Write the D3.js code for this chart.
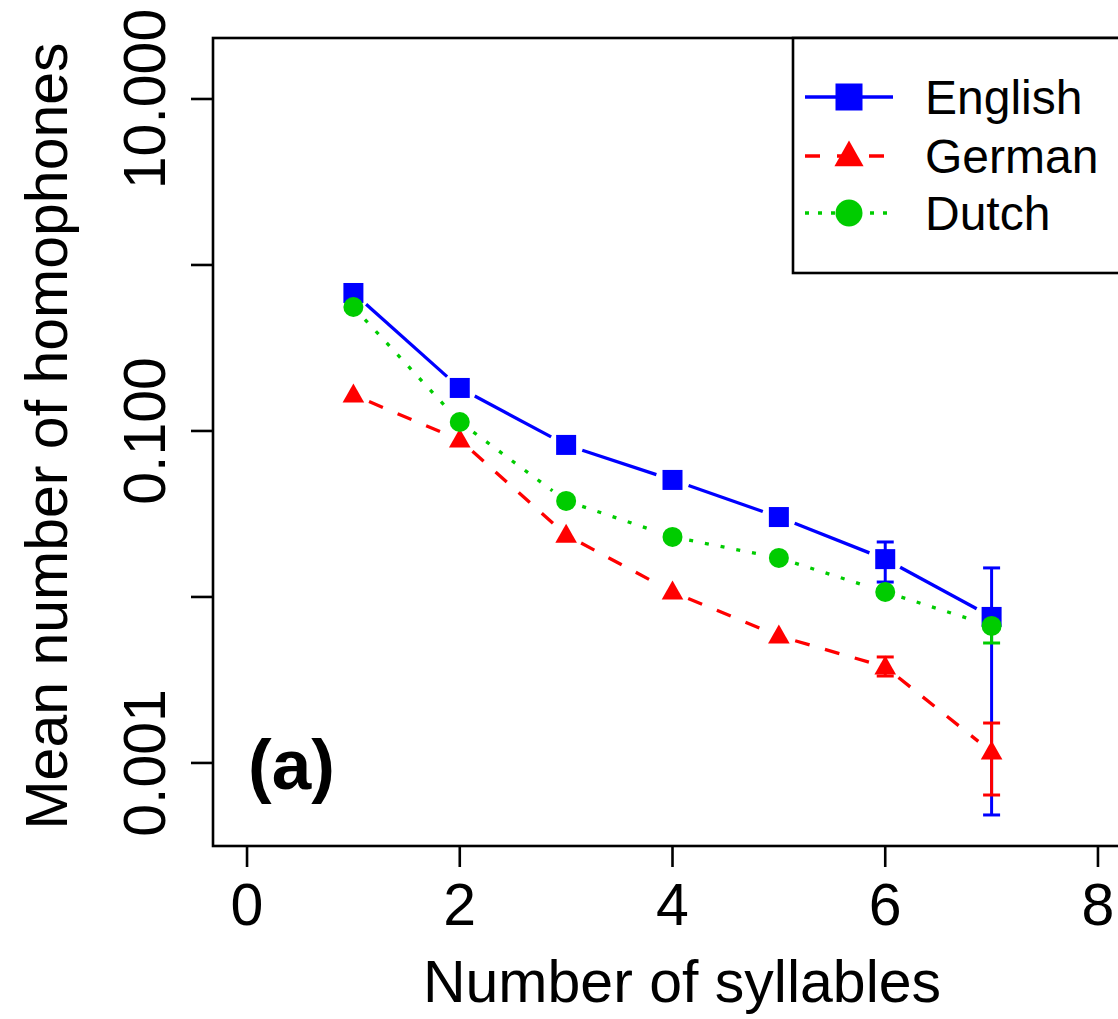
<!DOCTYPE html>
<html>
<head>
<meta charset="utf-8">
<script src="https://cdn.jsdelivr.net/npm/d3@7"></script>
<style>
  html, body { margin: 0; padding: 0; background: #fff; overflow: hidden; }
  svg { display: block; }
  text { font-family: "Liberation Sans", Arial, sans-serif; fill: #000; }
</style>
</head>
<body>
<svg id="chart" width="1118" height="1019"></svg>
<script>
// ---- data ----
const syllables = [1, 2, 3, 4, 5, 6, 7];
const englishMean = [0.678, 0.1816, 0.0824, 0.0507, 0.0303, 0.0169, 0.00758];
const germanMean  = [0.1648, 0.0883, 0.0236, 0.01072, 0.00582, 0.00379, 0.001164];
const dutchMean   = [0.558, 0.1133, 0.0379, 0.0230, 0.01718, 0.01072, 0.00669];
// visible error bars (null = hidden behind marker)
const englishLo = [null, null, null, null, null, 0.0123, 0.000486];
const englishHi = [null, null, null, null, null, 0.02144, 0.01496];
const germanLo  = [null, null, null, null, null, 0.00334, 0.000641];
const germanHi  = [null, null, null, null, null, 0.00435, 0.00174];
const dutchLo   = [null, null, null, null, null, null, 0.00528];
const dutchHi   = [null, null, null, null, null, null, 0.00813];
const xTicks = [0, 2, 4, 6, 8];
const yTicks = [10, 1, 0.1, 0.01, 0.001];
const yTickLabels = ["10.000", "", "0.100", "", "0.001"];
const seriesNames = ["English", "German", "Dutch"];

(function () {
// ---- layout ----
const svg = d3.select("#chart");
const pLeft = 213, pRight = 1132, pTop = 38, pBottom = 846;
const x = d3.scaleLinear().domain([-0.32, 8.32]).range([pLeft, pRight]);
const y = d3.scaleLog().domain([23.3, 0.000316]).range([pTop, pBottom]);

const series = [
  { name: seriesNames[0], mean: englishMean, lo: englishLo, hi: englishHi, color: "#0000ff", dash: null, legDash: null, shape: "square" },
  { name: seriesNames[1], mean: germanMean, lo: germanLo, hi: germanHi, color: "#ff0000", dash: "15,16", legDash: "15,17", shape: "triangle" },
  { name: seriesNames[2], mean: dutchMean, lo: dutchLo, hi: dutchHi, color: "#00cc00", dash: "4,12", legDash: "4,9", shape: "circle" }
];

function drawMarker(g, shape, cx, cy, size, color) {
  if (shape === "square") {
    g.append("rect").attr("x", cx - size / 2).attr("y", cy - size / 2)
      .attr("width", size).attr("height", size).attr("fill", color);
  } else if (shape === "circle") {
    g.append("circle").attr("cx", cx).attr("cy", cy).attr("r", size / 2).attr("fill", color);
  } else {
    const h = size * 0.95, w = size * 1.08;
    g.append("path")
      .attr("d", `M${cx},${cy - h * 0.6}L${cx + w / 2},${cy + h * 0.4}L${cx - w / 2},${cy + h * 0.4}Z`)
      .attr("fill", color);
  }
}

const plot = svg.append("g");
const gap = 17;

series.forEach(s => {
  const g = plot.append("g");
  for (let i = 0; i < syllables.length - 1; i++) {
    const x1 = x(syllables[i]), y1 = y(s.mean[i]);
    const x2 = x(syllables[i + 1]), y2 = y(s.mean[i + 1]);
    const dx = x2 - x1, dy = y2 - y1, len = Math.hypot(dx, dy);
    if (len <= 2 * gap) continue;
    const ux = dx / len, uy = dy / len;
    g.append("line")
      .attr("x1", x1 + ux * gap).attr("y1", y1 + uy * gap)
      .attr("x2", x2 - ux * gap).attr("y2", y2 - uy * gap)
      .attr("stroke", s.color).attr("stroke-width", 3.3)
      .attr("stroke-dasharray", s.dash);
  }
});

// error bars
series.forEach(s => {
  const g = plot.append("g");
  syllables.forEach((sx, i) => {
    if (s.lo[i] == null) return;
    const cx = x(sx);
    g.append("line").attr("x1", cx).attr("x2", cx)
      .attr("y1", y(s.hi[i])).attr("y2", y(s.lo[i]))
      .attr("stroke", s.color).attr("stroke-width", 3);
    [s.lo[i], s.hi[i]].forEach(v => {
      g.append("line").attr("x1", cx - 8.5).attr("x2", cx + 8.5)
        .attr("y1", y(v)).attr("y2", y(v))
        .attr("stroke", s.color).attr("stroke-width", 3);
    });
  });
});

// markers
series.forEach(s => {
  const g = plot.append("g");
  syllables.forEach((sx, i) => drawMarker(g, s.shape, x(sx), y(s.mean[i]), 20, s.color));
});

// box
svg.append("rect").attr("x", pLeft).attr("y", pTop)
  .attr("width", pRight - pLeft).attr("height", pBottom - pTop)
  .attr("fill", "none").attr("stroke", "#000").attr("stroke-width", 2.6);

// x axis
const xAxis = svg.append("g");
xTicks.forEach(t => {
  xAxis.append("line").attr("x1", x(t)).attr("x2", x(t))
    .attr("y1", pBottom).attr("y2", pBottom + 21)
    .attr("stroke", "#000").attr("stroke-width", 2.6);
  xAxis.append("text").attr("x", x(t)).attr("y", 925)
    .attr("text-anchor", "middle").attr("font-size", 59).text(t);
});

// y axis
const yAxis = svg.append("g");
yTicks.forEach((t, i) => {
  yAxis.append("line").attr("x1", pLeft - 22).attr("x2", pLeft)
    .attr("y1", y(t)).attr("y2", y(t))
    .attr("stroke", "#000").attr("stroke-width", 2.6);
  if (yTickLabels[i]) {
    yAxis.append("text")
      .attr("transform", `translate(165,${y(t)}) rotate(-90)`)
      .attr("text-anchor", "middle").attr("font-size", 59).text(yTickLabels[i]);
  }
});

// axis titles
svg.append("text").attr("x", 682).attr("y", 1002)
  .attr("text-anchor", "middle").attr("font-size", 59).text("Number of syllables");
svg.append("text").attr("transform", `translate(67,436) rotate(-90)`)
  .attr("text-anchor", "middle").attr("font-size", 59).text("Mean number of homophones");

// panel label
svg.append("text").attr("x", 248).attr("y", 789)
  .attr("font-size", 71).attr("font-weight", "bold").text("(a)");

// legend
const leg = svg.append("g");
leg.append("rect").attr("x", 793).attr("y", pTop).attr("width", pRight - 793).attr("height", 273 - pTop)
  .attr("fill", "#fff").attr("stroke", "#000").attr("stroke-width", 2.6);
const rowY = [97, 156, 213];
series.forEach((s, i) => {
  leg.append("line").attr("x1", 805).attr("x2", 893)
    .attr("y1", rowY[i]).attr("y2", rowY[i])
    .attr("stroke", s.color).attr("stroke-width", 3.3)
    .attr("stroke-dasharray", s.legDash);
  drawMarker(leg, s.shape, 849, rowY[i], 27, s.color);
  leg.append("text").attr("x", 925).attr("y", rowY[i] + 17)
    .attr("font-size", 48).text(s.name);
});
})();
</script>
</body>
</html>
